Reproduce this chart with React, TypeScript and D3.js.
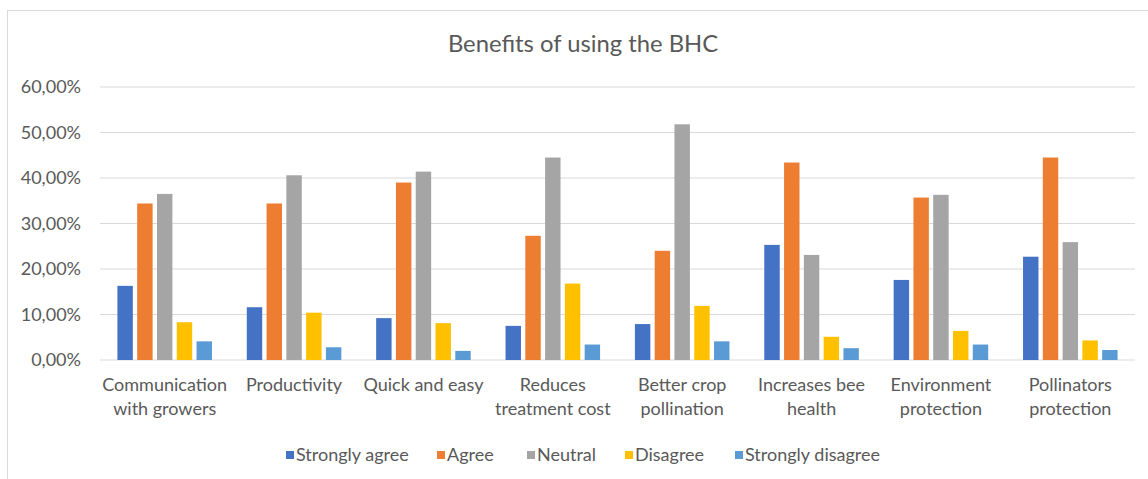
import * as d3 from 'd3';

const categories = [
  'Communication with growers',
  'Productivity',
  'Quick and easy',
  'Reduces treatment cost',
  'Better crop pollination',
  'Increases bee health',
  'Environment protection',
  'Pollinators protection',
];

// how the axis labels wrap in the original
const categoryLines = [
  ['Communication', 'with growers'],
  ['Productivity'],
  ['Quick and easy'],
  ['Reduces', 'treatment cost'],
  ['Better crop', 'pollination'],
  ['Increases bee', 'health'],
  ['Environment', 'protection'],
  ['Pollinators', 'protection'],
];

const seriesNames = ['Strongly agree', 'Agree', 'Neutral', 'Disagree', 'Strongly disagree'];
const seriesColors = ['#4472C4', '#ED7D31', '#A5A5A5', '#FFC000', '#5B9BD5'];

// percent values per series, one per category
const stronglyAgree = [16.3, 11.6, 9.2, 7.5, 7.9, 25.3, 17.6, 22.7];
const agree = [34.4, 34.4, 39.0, 27.3, 24.0, 43.4, 35.7, 44.5];
const neutral = [36.5, 40.6, 41.4, 44.5, 51.8, 23.1, 36.3, 25.9];
const disagree = [8.3, 10.4, 8.1, 16.8, 11.9, 5.1, 6.4, 4.3];
const stronglyDisagree = [4.1, 2.8, 2.0, 3.4, 4.1, 2.6, 3.4, 2.2];

const yTicks = [0, 10, 20, 30, 40, 50, 60];

const W = 1148;
const H = 479;
const margin = { top: 87, right: 13, bottom: 119, left: 100 };
const FONT = 'Lato, "Open Sans", sans-serif';
const TEXT = '#595959';

const App = () => {
  const series = [stronglyAgree, agree, neutral, disagree, stronglyDisagree];
  const innerW = W - margin.left - margin.right;
  const innerH = H - margin.top - margin.bottom;

  const x0 = d3.scaleBand<string>().domain(categories).range([0, innerW]).padding(0);
  const x1 = d3
    .scaleBand<string>()
    .domain(seriesNames)
    .range([0, x0.bandwidth()])
    .paddingInner(0.22)
    .paddingOuter(0.88);
  const y = d3.scaleLinear().domain([0, 60]).range([innerH, 0]);

  const fmt = (v: number) => d3.format('.2f')(v).replace('.', ',') + '%';

  // legend layout
  const legendX = [286, 437, 527, 625, 735];

  return (
    <div style={{ position: 'absolute', left: 0, top: 0 }}>
      <svg width={W} height={H} style={{ display: 'block', background: '#fff' }}>
        <rect x={7.5} y={10.5} width={W} height={H} fill="#fff" stroke="#D9D9D9" />
        <text
          x={583}
          y={52}
          textAnchor="middle"
          fontFamily={FONT}
          fontSize={23.8}
          fill={TEXT}
        >
          Benefits of using the BHC
        </text>
        <g transform={`translate(${margin.left},${margin.top})`}>
          {yTicks.map((t) => (
            <g key={t} transform={`translate(0,${y(t)})`}>
              <line x1={0} x2={innerW} stroke="#D9D9D9" strokeWidth={1} />
              <text
                x={-19}
                dy="0.35em"
                textAnchor="end"
                fontFamily={FONT}
                fontSize={18}
                fill={TEXT}
              >
                {fmt(t)}
              </text>
            </g>
          ))}
          {categories.map((c, ci) => (
            <g key={c} transform={`translate(${x0(c)},0)`}>
              {series.map((s, si) => (
                <rect
                  key={si}
                  x={x1(seriesNames[si])}
                  y={y(s[ci])}
                  width={x1.bandwidth()}
                  height={innerH - y(s[ci])}
                  fill={seriesColors[si]}
                />
              ))}
              <text
                x={x0.bandwidth() / 2}
                y={innerH + 31}
                textAnchor="middle"
                fontFamily={FONT}
                fontSize={18}
                fill={TEXT}
              >
                {categoryLines[ci].map((ln, li) => (
                  <tspan key={li} x={x0.bandwidth() / 2} dy={li === 0 ? 0 : 24}>
                    {ln}
                  </tspan>
                ))}
              </text>
            </g>
          ))}
        </g>
        <g>
          {seriesNames.map((n, i) => (
            <g key={n} transform={`translate(${legendX[i]},455)`}>
              <rect x={0} y={-4} width={8} height={8} fill={seriesColors[i]} />
              <text x={10} dy="0.35em" fontFamily={FONT} fontSize={18} fill={TEXT}>
                {n}
              </text>
            </g>
          ))}
        </g>
      </svg>
    </div>
  );
};

export default App;
